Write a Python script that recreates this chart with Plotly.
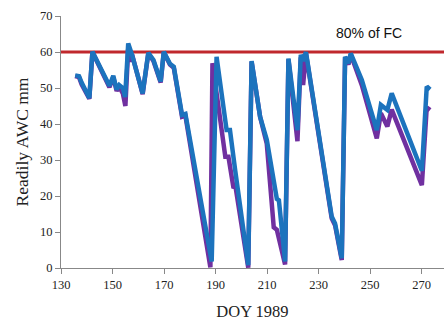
import plotly.graph_objects as go

blue_day = [135.5, 137, 138, 141, 142.2, 148.8, 150.3, 151.6, 152.6, 154, 154.9, 156.1, 157.4,
            161.7, 163.9, 165.9, 168.7, 169.9, 172.3, 173.8, 177, 178.3, 188.5, 190.4,
            194.3, 195.6, 197.6, 202.7, 204, 207.3, 209.9, 213.8, 214.6, 217, 218.3,
            221.8, 223.1, 224, 225.1, 235.1, 236.4, 239, 240.3, 241.6, 242.5, 246.8,
            252.6, 254.2, 256.7, 258.4, 270.1, 272, 273.3]
blue_val = [53.5, 53.3, 51.5, 47.2, 60.1, 50.6, 53.4, 49.6, 50.8, 50, 47.5, 62.4, 59.6,
            48.5, 59.8, 57.8, 51.8, 60.1, 56.7, 55.9, 42.5, 42.8, 1.8, 58.7,
            38.3, 38.3, 27.3, 0.8, 57.5, 42, 35.6, 19.2, 18.8, 1.8, 58.2,
            38.3, 59.2, 57.5, 60, 14.3, 12.4, 2.7, 58.7, 56.9, 59.6, 52.2,
            38.3, 45.3, 43.9, 48.5, 27, 50.4, 49.6]

purple_day = [135.5, 137, 138, 141, 142.2, 148.8, 150.3, 151.6, 152.6, 154, 155, 156.1, 157.1, 157.6,
              161.7, 163.9, 165.9, 168.7, 169.9, 172.3, 173.8, 177, 178.3, 188, 188.8,
              193.8, 195, 196.9, 197.8, 202.7, 204, 207.3, 209.9, 212.6, 213.8, 217, 218.3,
              221.8, 223.1, 224, 225.1, 235.1, 236.4, 239, 240.3, 241.6, 242.5, 246.8,
              252.6, 254.2, 256.7, 258.4, 270.1, 272, 273.3]
purple_val = [53.3, 53, 51, 47, 60, 50.2, 53, 49.2, 50.3, 48.5, 45, 61, 57.3, 59.3,
              48.3, 59.6, 57.5, 51.5, 59.9, 56.5, 55.6, 42, 42.3, 0.2, 56.9,
              30.9, 30.9, 22.6, 22.4, 0.1, 57.3, 42, 34.5, 11.3, 10.6, 1, 58,
              35.2, 58.5, 50.8, 59.6, 13.8, 11.9, 2.2, 58.5, 56.5, 59.3, 50.8,
              36, 43, 39.3, 44, 23, 44.6, 43.9]

fc_level = 60
x_ticks = [130, 150, 170, 190, 210, 230, 250, 270]
y_ticks = [0, 10, 20, 30, 40, 50, 60, 70]

fig = go.Figure()
fig.add_trace(go.Scatter(x=[130, 278.7], y=[fc_level, fc_level], mode="lines",
                         line=dict(color="#C0282D", width=3.2), showlegend=False,
                         hoverinfo="skip"))
fig.add_trace(go.Scatter(x=purple_day, y=purple_val, mode="lines",
                         line=dict(color="#7030A0", width=4.5), showlegend=False))
fig.add_trace(go.Scatter(x=blue_day, y=blue_val, mode="lines",
                         line=dict(color="#1C73BD", width=4.5), showlegend=False))

fig.add_annotation(x=0.804, y=65.3, xref="paper", yref="y", text="80% of FC",
                   xanchor="center", yanchor="middle",
                   showarrow=False, font=dict(family="Liberation Sans", size=14, color="#111"))

axis_font = dict(family="Liberation Serif", size=12.5, color="#222")
fig.update_layout(
    width=444, height=324,
    margin=dict(l=61, r=0, t=16, b=56),
    plot_bgcolor="white", paper_bgcolor="white",
    xaxis=dict(range=[130, 278.7], tickvals=x_ticks, ticks="outside", ticklen=5,
               tickcolor="#888", showline=True, linecolor="#888", linewidth=1,
               showgrid=False, zeroline=False, tickfont=axis_font,
               title=dict(text="DOY 1989", font=dict(family="Liberation Serif", size=16.5, color="#222"),
                          standoff=14)),
    yaxis=dict(range=[0, 70], tickvals=y_ticks, ticks="outside", ticklen=5,
               tickcolor="#888", showline=True, linecolor="#888", linewidth=1,
               showgrid=False, zeroline=False, tickfont=axis_font,
               title=dict(text="Readily AWC mm", font=dict(family="Liberation Serif", size=17.5, color="#222"),
                          standoff=6)),
)
fig.write_html("out.html")
